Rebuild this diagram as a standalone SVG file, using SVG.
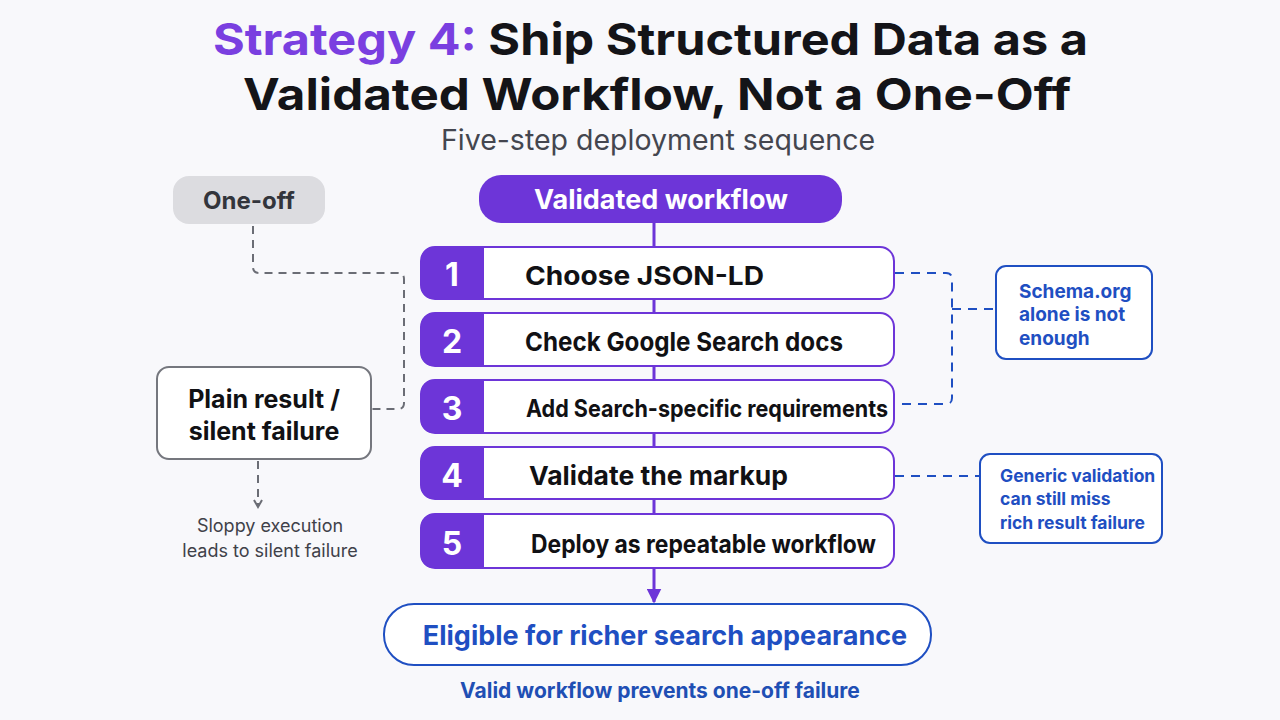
<svg xmlns="http://www.w3.org/2000/svg" width="1280" height="720" viewBox="0 0 1280 720">
<defs>
<style>
.t{font-family:Inter,"Noto Sans","Liberation Sans",sans-serif}
.title{font-size:44.5px;font-weight:700;fill:#141418}
.sub{font-size:28.5px;fill:#44464f}
.step{fill:#ffffff;stroke:#6d35d8;stroke-width:2}
.tab{fill:#6d35d8}
.num{font-size:32px;font-weight:700;fill:#ffffff}
.stxt{font-weight:700;fill:#111114}
.note{fill:#ffffff;stroke:#1f4fc2;stroke-width:2}
.ntxt{font-weight:700;fill:#1f4fc2}
.bdash{fill:none;stroke:#1f4fc2;stroke-width:2;stroke-dasharray:9 7}
.gdash{fill:none;stroke:#6b6d75;stroke-width:2;stroke-dasharray:8 6}
</style>
<marker id="ap" viewBox="0 0 10 10" refX="9" refY="5" markerWidth="5" markerHeight="5" orient="auto"><path d="M0,0 L10,5 L0,10 z" fill="#6d35d8"/></marker>
<marker id="ag" viewBox="0 0 10 10" refX="8" refY="5" markerWidth="5" markerHeight="5" orient="auto"><path d="M1,1 L8,5 L1,9" fill="none" stroke="#6b6d75" stroke-width="2"/></marker>
</defs>
<rect width="1280" height="720" fill="#f8f8fb"/>

<g id="title" class="t">
<text x="213" y="55" class="title" textLength="875" lengthAdjust="spacingAndGlyphs"><tspan fill="#7a3fe0">Strategy 4:</tspan> Ship Structured Data as a</text>
<text x="243" y="109.5" class="title" textLength="828" lengthAdjust="spacingAndGlyphs">Validated Workflow, Not a One-Off</text>
<text x="658" y="150" text-anchor="middle" class="sub">Five-step deployment sequence</text>
</g>

<g id="connectors">
<line x1="654" y1="223" x2="654" y2="602" stroke="#6d35d8" stroke-width="3" marker-end="url(#ap)"/>
<path class="gdash" d="M253,226 V267 Q253,273 259,273 H398 Q404,273 404,279 V403 Q404,409 398,409 H372"/>
<path class="gdash" d="M258,461 V507" marker-end="url(#ag)"/>
<path class="bdash" d="M895,273 H946 Q952,273 952,279 V398 Q952,404 946,404 H895"/>
<path class="bdash" d="M952,309 H996"/>
<path class="bdash" d="M895,476 H980"/>
</g>

<g id="oneoff" class="t">
<rect x="173" y="176" width="152" height="48" rx="16" fill="#dcdce0"/>
<text x="249" y="209" text-anchor="middle" font-size="24" font-weight="700" fill="#33353c">One-off</text>
</g>

<g id="plain" class="t">
<rect x="157" y="367" width="214" height="92" rx="12" fill="#ffffff" stroke="#75777e" stroke-width="2"/>
<text x="264" y="408" text-anchor="middle" font-size="25" font-weight="700" fill="#111114">Plain result /</text>
<text x="264" y="440" text-anchor="middle" font-size="25" font-weight="700" fill="#111114">silent failure</text>
</g>

<g id="sloppy" class="t">
<text x="270" y="532" text-anchor="middle" font-size="18" fill="#3f4149">Sloppy execution</text>
<text x="270" y="557" text-anchor="middle" font-size="18" fill="#3f4149">leads to silent failure</text>
</g>

<g id="validated" class="t">
<rect x="479" y="175" width="363" height="48" rx="22" fill="#6d35d8"/>
<text x="661" y="209" text-anchor="middle" font-size="27" font-weight="700" fill="#ffffff">Validated workflow</text>
</g>

<g id="step1" class="t">
<rect class="step" x="421" y="247" width="473" height="52" rx="14"/>
<path class="tab" d="M435,247 H484 V299 H435 Q421,299 421,285 V261 Q421,247 435,247 Z"/>
<text x="452" y="286" text-anchor="middle" class="num">1</text>
<text x="525" y="285" class="stxt" font-size="26" textLength="239" lengthAdjust="spacingAndGlyphs">Choose JSON-LD</text>
</g>
<g id="step2" class="t">
<rect class="step" x="421" y="313" width="473" height="53" rx="14"/>
<path class="tab" d="M435,313 H484 V366 H435 Q421,366 421,352 V327 Q421,313 435,313 Z"/>
<text x="452" y="353" text-anchor="middle" class="num">2</text>
<text x="525" y="351" class="stxt" font-size="26" textLength="318" lengthAdjust="spacingAndGlyphs">Check Google Search docs</text>
</g>
<g id="step3" class="t">
<rect class="step" x="421" y="380" width="473" height="53" rx="14"/>
<path class="tab" d="M435,380 H484 V433 H435 Q421,433 421,419 V394 Q421,380 435,380 Z"/>
<text x="452" y="420" text-anchor="middle" class="num">3</text>
<text x="526" y="417" class="stxt" font-size="24" textLength="362" lengthAdjust="spacingAndGlyphs">Add Search-specific requirements</text>
</g>
<g id="step4" class="t">
<rect class="step" x="421" y="447" width="473" height="52" rx="14"/>
<path class="tab" d="M435,447 H484 V499 H435 Q421,499 421,485 V461 Q421,447 435,447 Z"/>
<text x="452" y="487" text-anchor="middle" class="num">4</text>
<text x="529" y="485" class="stxt" font-size="26" textLength="259" lengthAdjust="spacingAndGlyphs">Validate the markup</text>
</g>
<g id="step5" class="t">
<rect class="step" x="421" y="514" width="473" height="54" rx="14"/>
<path class="tab" d="M435,514 H484 V568 H435 Q421,568 421,554 V528 Q421,514 435,514 Z"/>
<text x="452" y="555" text-anchor="middle" class="num">5</text>
<text x="531" y="553" class="stxt" font-size="25" textLength="345" lengthAdjust="spacingAndGlyphs">Deploy as repeatable workflow</text>
</g>

<g id="schema" class="t">
<rect class="note" x="996" y="266" width="156" height="93" rx="10"/>
<text x="1019" y="298" class="ntxt" font-size="19">Schema.org</text>
<text x="1019" y="321" class="ntxt" font-size="19">alone is not</text>
<text x="1019" y="345" class="ntxt" font-size="19">enough</text>
</g>

<g id="generic" class="t">
<rect class="note" x="980" y="454" width="182" height="89" rx="10"/>
<text x="1000" y="482" class="ntxt" font-size="17.5">Generic validation</text>
<text x="1000" y="505" class="ntxt" font-size="17.5">can still miss</text>
<text x="1000" y="529" class="ntxt" font-size="17.5">rich result failure</text>
</g>

<g id="eligible" class="t">
<rect x="384" y="604" width="547" height="61" rx="30" fill="#ffffff" stroke="#1f4fc2" stroke-width="2"/>
<text x="665" y="645" text-anchor="middle" font-size="27" font-weight="700" fill="#1f4fc2">Eligible for richer search appearance</text>
</g>

<g id="footer" class="t">
<text x="660" y="698" text-anchor="middle" font-size="21" font-weight="700" fill="#1f4fb4">Valid workflow prevents one-off failure</text>
</g>
</svg>
